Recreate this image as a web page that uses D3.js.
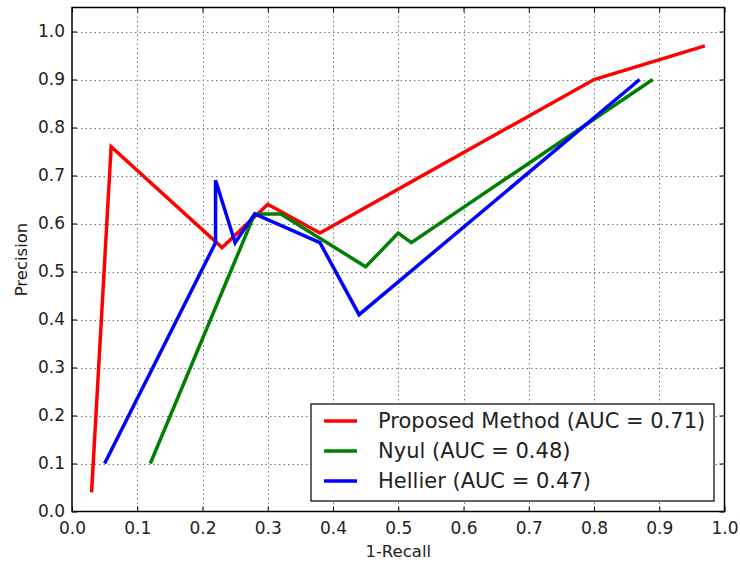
<!DOCTYPE html>
<html><head><meta charset="utf-8">
<script src="https://cdn.jsdelivr.net/npm/d3@7/dist/d3.min.js"></script>
<style>body{margin:0;background:#fff;} text{font-family:"DejaVu Sans",sans-serif;fill:#222;}</style>
</head><body>
<svg id="chart" width="740" height="563"></svg>
<script>
const xTicks = [0,0.1,0.2,0.3,0.4,0.5,0.6,0.7,0.8,0.9,1.0];
const yTicks = [0,0.1,0.2,0.3,0.4,0.5,0.6,0.7,0.8,0.9,1.0];
const seriesNames = ["Proposed Method (AUC = 0.71)","Nyul (AUC = 0.48)","Hellier (AUC = 0.47)"];
const seriesColors = ["#ff0000","#008000","#0000ff"];
const proposedX = [0.03,0.06,0.23,0.30,0.38,0.80,0.97];
const proposedY = [0.04,0.76,0.55,0.64,0.58,0.90,0.97];
const nyulX = [0.12,0.28,0.32,0.45,0.50,0.52,0.89];
const nyulY = [0.10,0.62,0.62,0.51,0.58,0.56,0.90];
const hellierX = [0.05,0.22,0.22,0.25,0.28,0.38,0.44,0.87];
const hellierY = [0.10,0.56,0.69,0.56,0.62,0.56,0.41,0.90];

const svg = d3.select("#chart");
const L=72, R=724.5, T=7.5, B=511.5;
const x = d3.scaleLinear().domain([0,1]).range([L,R]);
const y = d3.scaleLinear().domain([0,1.05]).range([B,T]);

// grid
const g = svg.append("g");
g.selectAll(".gx").data(xTicks.slice(1,-1)).enter().append("line")
 .attr("x1",d=>Math.round(x(d))+0.5).attr("x2",d=>Math.round(x(d))+0.5).attr("y1",T).attr("y2",B)
 .attr("stroke","#777").attr("stroke-width",1).attr("stroke-dasharray","1.5,3");
g.selectAll(".gy").data(yTicks.slice(1)).enter().append("line")
 .attr("y1",d=>Math.round(y(d))+0.5).attr("y2",d=>Math.round(y(d))+0.5).attr("x1",L).attr("x2",R)
 .attr("stroke","#777").attr("stroke-width",1).attr("stroke-dasharray","1.5,3");

// axes
const fmt = d3.format(".1f");
const axB = svg.append("g").attr("transform",`translate(0,${B})`)
 .call(d3.axisBottom(x).tickValues(xTicks).tickFormat(fmt).tickSizeInner(-5).tickSizeOuter(0).tickPadding(10));
const axL = svg.append("g").attr("transform",`translate(${L},0)`)
 .call(d3.axisLeft(y).tickValues(yTicks).tickFormat(fmt).tickSizeInner(-5).tickSizeOuter(0).tickPadding(7));
const axT = svg.append("g").attr("transform",`translate(0,${T})`)
 .call(d3.axisTop(x).tickValues(xTicks).tickFormat("").tickSizeInner(-5).tickSizeOuter(0));
const axR = svg.append("g").attr("transform",`translate(${R},0)`)
 .call(d3.axisRight(y).tickValues(yTicks).tickFormat("").tickSizeInner(-5).tickSizeOuter(0));
[axB,axL,axT,axR].forEach(a=>{a.select(".domain").remove(); a.selectAll("line").attr("stroke","#000");
 a.selectAll("text").style("font-size","17px").attr("fill","#222");});

// lines
const series = [[proposedX,proposedY],[nyulX,nyulY],[hellierX,hellierY]];
const line = d3.line().x(d=>x(d[0])).y(d=>y(d[1]));
series.forEach((s,i)=>{
  const pts = s[0].map((v,j)=>[v,s[1][j]]);
  svg.append("path").attr("d",line(pts)).attr("fill","none").attr("stroke",seriesColors[i])
   .attr("stroke-width",3.5).attr("stroke-linejoin","miter");
});

// frame
svg.append("rect").attr("x",L).attr("y",T).attr("width",R-L).attr("height",B-T)
 .attr("fill","none").attr("stroke","#000").attr("stroke-width",1.5);

// axis labels
svg.append("text").attr("x",(L+R)/2).attr("y",557).attr("text-anchor","middle").style("font-size","16.5px").text("1-Recall");
svg.append("text").attr("transform",`translate(27,${(T+B)/2}) rotate(-90)`).attr("text-anchor","middle").style("font-size","16.5px").text("Precision");

// legend
const lg = svg.append("g");
lg.append("rect").attr("x",311).attr("y",404).attr("width",403).attr("height",97)
 .attr("fill","#fff").attr("stroke","#000").attr("stroke-width",1.2);
seriesNames.forEach((n,i)=>{
  const yy = 421 + i*30;
  lg.append("line").attr("x1",324).attr("x2",357).attr("y1",yy).attr("y2",yy).attr("stroke",seriesColors[i]).attr("stroke-width",3.5);
  lg.append("text").attr("x",378).attr("y",yy+7).style("font-size","21px").text(n);
});
</script>
</body></html>
